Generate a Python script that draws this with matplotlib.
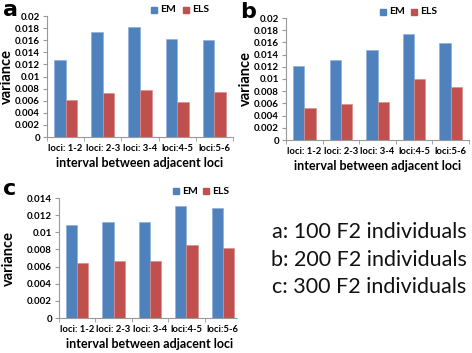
import numpy as np
import matplotlib.pyplot as plt

categories = ["loci: 1-2", "loci: 2-3", "loci: 3-4", "loci:4-5", "loci:5-6"]
em_a = [0.0128, 0.0173, 0.0182, 0.0162, 0.0160]
els_a = [0.0061, 0.0072, 0.0078, 0.0058, 0.0075]
em_b = [0.0122, 0.0131, 0.0148, 0.0174, 0.0159]
els_b = [0.0053, 0.0059, 0.0063, 0.0100, 0.0087]
em_c = [0.0109, 0.0112, 0.0112, 0.0131, 0.0128]
els_c = [0.0064, 0.0067, 0.0066, 0.0085, 0.0082]
notes = ["a: 100 F2 individuals", "b: 200 F2 individuals", "c: 300 F2 individuals"]

BLUE = "#4F81BD"
RED = "#C0504D"
W, H = 472, 353
FONT = "Lato"

fig = plt.figure(figsize=(W / 100, H / 100), dpi=100)


def px_axes(left, top, right, bottom):
    return fig.add_axes([left / W, 1 - bottom / H, (right - left) / W, (bottom - top) / H])


def panel(ax, em, els, ymax, step, label, lab_x, lab_y, leg_x, leg_y, leg_gap, ylab_x):
    x = np.arange(len(categories))
    bw = 0.31
    ax.bar(x - bw / 2, em, bw, color=BLUE, edgecolor="#8FB0D8", linewidth=0.5)
    ax.bar(x + bw / 2, els, bw, color=RED, edgecolor="#D9908E", linewidth=0.5)
    ax.set_xlim(-0.5, len(categories) - 0.5)
    ax.set_ylim(0, ymax)
    ticks = np.arange(0, ymax + step / 2, step)
    ax.set_yticks(ticks)
    ax.set_yticklabels(["0" if t == 0 else f"{t:g}" for t in ticks],
                       fontsize=7, fontweight="bold", family=FONT)
    ax.set_xticks(x)
    ax.set_xticklabels(categories, fontsize=6.8, fontweight="bold", family=FONT)
    ax.set_xticks(np.arange(-0.5, len(categories)), minor=True)
    ax.tick_params(axis="x", which="major", length=0, pad=5)
    ax.tick_params(axis="x", which="minor", length=3, color="#999999")
    ax.tick_params(axis="y", length=3, color="#999999", pad=2)
    for s in ["top", "right"]:
        ax.spines[s].set_visible(False)
    for s in ["left", "bottom"]:
        ax.spines[s].set_color("#999999")
        ax.spines[s].set_linewidth(0.8)
    ax.set_xlabel("interval between adjacent loci", fontsize=9,
                  fontweight="bold", family=FONT, labelpad=3)
    ax.set_ylabel("variance", fontsize=10.5, fontweight="bold", family=FONT)
    ax.yaxis.set_label_coords(ylab_x, 0.5)
    fig.text(lab_x / W, 1 - lab_y / H, label, fontsize=16, fontweight="bold",
             family="DejaVu Sans", va="center", ha="left")
    # legend
    for i, (name, col) in enumerate([("EM", BLUE), ("ELS", RED)]):
        lx = leg_x + i * leg_gap
        fig.patches.append(plt.Rectangle((lx / W, 1 - (leg_y + 3) / H), 6 / W, 6 / H,
                                         transform=fig.transFigure, color=col))
        fig.text((lx + 9) / W, 1 - leg_y / H, name, fontsize=7.5, fontweight="bold",
                 family=FONT, va="center", ha="left")


ax_a = px_axes(47, 16, 233, 137)
panel(ax_a, em_a, els_a, 0.02, 0.002, "a", 3, 10, 151, 10, 32, -33 / 186)

ax_b = px_axes(286, 18, 469, 140)
panel(ax_b, em_b, els_b, 0.02, 0.002, "b", 240, 12, 380, 12, 31, -33 / 183)

ax_c = px_axes(59, 198, 241, 318)
panel(ax_c, em_c, els_c, 0.014, 0.002, "c", 3, 189, 173, 191, 30, -43 / 182)

# white cover of the right side of panel c, as in the source figure
fig.patches.append(plt.Rectangle((237.5 / W, 0), 1, 175 / H, transform=fig.transFigure,
                                 color="white", zorder=5))

for i, t in enumerate(notes):
    fig.text(369 / W, 1 - (232 + i * 27.5) / H, t, fontsize=15.5, family=FONT,
             va="center", ha="center", color="#111111", zorder=6)

fig.savefig("out.png", dpi=100)
